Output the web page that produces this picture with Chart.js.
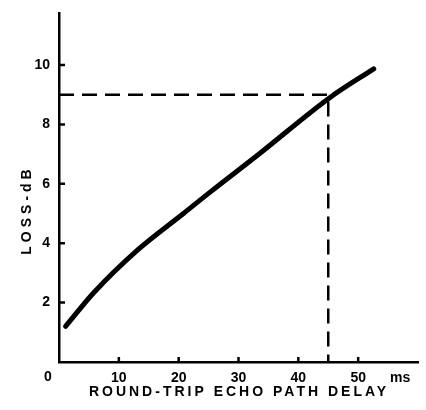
<!DOCTYPE html>
<html>
<head>
<meta charset="utf-8">
<script src="https://cdn.jsdelivr.net/npm/chart.js@4/dist/chart.umd.min.js"></script>
<style>
  html, body { margin: 0; padding: 0; background: #fff; }
  #wrap { width: 426px; height: 410px; }
</style>
</head>
<body>
<div id="wrap"><canvas id="chartCanvas" width="426" height="410"></canvas></div>
<script>
// Loss vs. round-trip delay curve
const delayMs = [1.1, 5.8, 13.25, 20.8, 25.25, 33.6, 45.25, 52.6];
const lossDb = [1.2, 2.33, 3.79, 5.0, 5.72, 7.03, 8.9, 9.87];

// Reading marked with the dashed guide
const refDelay = 45;
const refLoss = 9;

// Axis ticks
const xTickValues = [10, 20, 30, 40, 50];
const yTickValues = [2, 4, 6, 8, 10];
const xUnitAt = 57;

const FONT = "'Liberation Sans', Arial, sans-serif";

// Inward tick marks, the origin "0" and both axis titles
const axisDecor = {
    id: 'axisDecor',
    afterDraw(chart) {
        const { ctx, chartArea, scales } = chart;
        const x = scales.x, y = scales.y;
        ctx.save();
        ctx.strokeStyle = '#000';
        ctx.lineWidth = 2.5;
        ctx.beginPath();
        yTickValues.forEach(v => {
            const py = y.getPixelForValue(v);
            ctx.moveTo(chartArea.left, py);
            ctx.lineTo(chartArea.left + 6, py);
        });
        xTickValues.forEach(v => {
            const px = x.getPixelForValue(v);
            ctx.moveTo(px, chartArea.bottom);
            ctx.lineTo(px, chartArea.bottom - 5);
        });
        ctx.stroke();

        ctx.fillStyle = '#000';
        ctx.textAlign = 'center';
        ctx.textBaseline = 'middle';
        ctx.font = 'bold 14px ' + FONT;
        ctx.fillText('0', chartArea.left - 11, chartArea.bottom + 15);

        ctx.letterSpacing = '3px';
        ctx.fillText('ROUND-TRIP ECHO PATH DELAY', 239, 392);

        ctx.translate(27, 212);
        ctx.rotate(-Math.PI / 2);
        ctx.letterSpacing = '4px';
        ctx.fillText('LOSS-dB', 2, 0);
        ctx.restore();
    }
};

const chart = new Chart(document.getElementById('chartCanvas'), {
    type: 'scatter',
    data: {
        datasets: [
            {
                data: delayMs.map((d, i) => ({ x: d, y: lossDb[i] })),
                showLine: true,
                borderColor: '#000',
                borderWidth: 5,
                borderCapStyle: 'round',
                cubicInterpolationMode: 'monotone',
                pointRadius: 0
            },
            {
                data: [
                    { x: 0, y: refLoss },
                    { x: refDelay, y: refLoss },
                    { x: refDelay, y: 0 }
                ],
                showLine: true,
                borderColor: '#000',
                borderWidth: 2.5,
                borderDash: [15, 8],
                pointRadius: 0
            }
        ]
    },
    options: {
        responsive: false,
        animation: false,
        layout: { padding: { top: 13, right: 8, left: 0, bottom: 0 } },
        plugins: {
            legend: { display: false },
            tooltip: { enabled: false }
        },
        scales: {
            x: {
                type: 'linear',
                min: 0,
                max: 60,
                afterBuildTicks: s => { s.ticks = xTickValues.concat([xUnitAt]).map(v => ({ value: v })); },
                afterFit: s => { s.height = 48; },
                grid: { display: true, drawOnChartArea: false, drawTicks: false },
                border: { display: true, color: '#000', width: 2.5 },
                ticks: {
                    autoSkip: false,
                    maxRotation: 0,
                    padding: 8,
                    color: '#000',
                    font: { family: FONT, size: 14, weight: 'bold' },
                    callback: v => (v === xUnitAt ? 'ms' : String(v))
                }
            },
            y: {
                type: 'linear',
                min: 0,
                max: 11.75,
                afterBuildTicks: s => { s.ticks = yTickValues.map(v => ({ value: v })); },
                afterFit: s => { s.width = 59; s.paddingTop = 0; s.paddingBottom = 0; },
                grid: { display: true, drawOnChartArea: false, drawTicks: false },
                border: { display: true, color: '#000', width: 2.5 },
                ticks: {
                    padding: 9,
                    color: '#000',
                    font: { family: FONT, size: 14, weight: 'bold' }
                }
            }
        }
    },
    plugins: [axisDecor]
});
</script>
</body>
</html>
